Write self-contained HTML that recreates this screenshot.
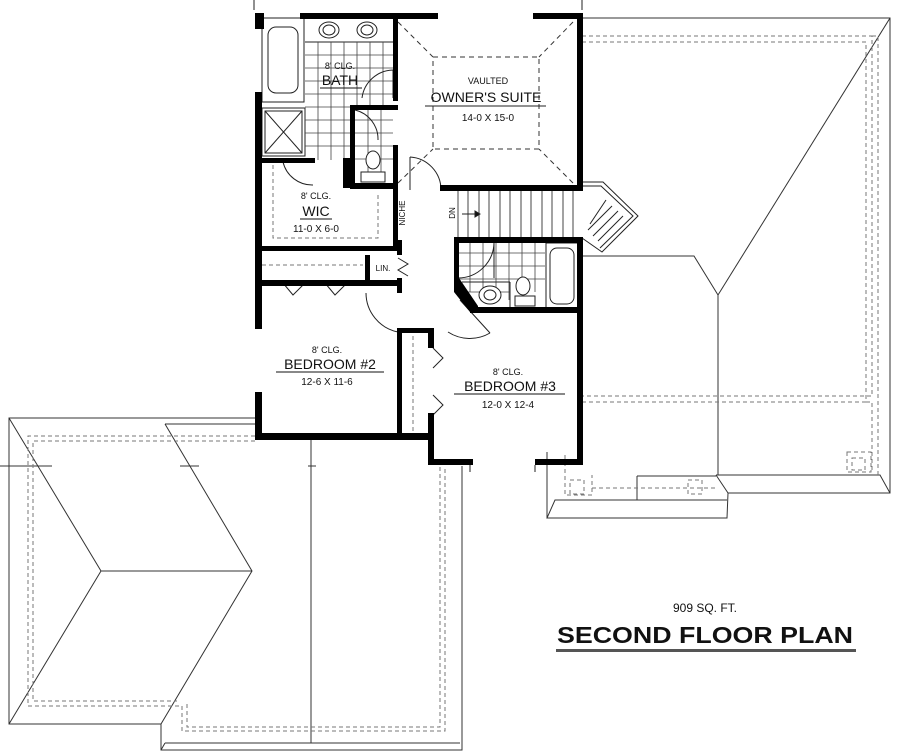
<!DOCTYPE html>
<html><head><meta charset="utf-8"><style>
html,body{margin:0;padding:0;background:#fff;}
svg{display:block;}
text{font-family:"Liberation Sans",sans-serif;fill:#111;}
</style></head><body>
<svg width="900" height="756" viewBox="0 0 900 756" xmlns="http://www.w3.org/2000/svg">
<rect width="900" height="756" fill="#fff"/>

<!-- RIGHT ROOF -->
<g fill="none" stroke="#333" stroke-width="1">
  <polyline points="582,18 890,18 890,493 728,493"/>
  <line x1="890" y1="18" x2="718" y2="295"/>
  <polyline points="582,256 694,256 718,295 718,475"/>
  <polyline points="716,475 880,475 890,493"/>
  <polyline points="716,475 728,493 727,518 547,518 555,500 727,500"/>
  <line x1="547" y1="452" x2="547" y2="518"/>
  <line x1="637" y1="476" x2="637" y2="500"/>
  <line x1="637" y1="476" x2="716" y2="476"/>
</g>
<g fill="none" stroke="#777" stroke-width="1" stroke-dasharray="4,3">
  <polyline points="582,36 872,36 872,396 582,396"/>
  <polyline points="582,42 866,42 866,402 582,402"/>
  <polyline points="872,36 878,36 878,475"/>
  <polyline points="866,402 872,402 872,472"/>
  <polyline points="565,455 565,495 592,495 592,475"/>
  <rect x="570" y="480" width="14" height="14"/>
  <rect x="688" y="480" width="14" height="14"/>
  <rect x="847" y="452" width="24" height="20"/>
  <rect x="852" y="458" width="13" height="12"/>
  <line x1="592" y1="488" x2="716" y2="488"/>
</g>

<!-- LEFT ROOF -->
<g fill="none" stroke="#333" stroke-width="1">
  <polyline points="255,418 9,418 9,724 161,724 161,750 462,750 462,466"/>
  <line x1="165" y1="424" x2="255" y2="424"/>
  <polyline points="9,418 101,571 9,724"/>
  <line x1="101" y1="571" x2="252" y2="571"/>
  <polyline points="165,424 252,571 161,724"/>
  <line x1="165" y1="743" x2="460" y2="743"/>
  <line x1="161" y1="750" x2="165" y2="743"/>
  <line x1="311" y1="440" x2="311" y2="743"/>
  <line x1="0" y1="466" x2="52" y2="466"/>
  <line x1="180" y1="466" x2="199" y2="466"/>
  <line x1="308" y1="466" x2="316" y2="466"/>
</g>
<g fill="none" stroke="#777" stroke-width="1" stroke-dasharray="4,3">
  <polyline points="255,436 28,436 28,706 182,706 182,731 445,731 445,466"/>
  <polyline points="255,441 33,441 33,701 177,701"/>
  <polyline points="187,704 187,727 440,727 440,466"/>
</g>

<!-- FIXTURES / THIN -->
<g fill="none" stroke="#222" stroke-width="1">
  <rect x="262" y="18" width="42" height="84"/>
  <rect x="268" y="27" width="30" height="66" rx="8"/>
  <rect x="262" y="108" width="43" height="48"/>
  <rect x="265" y="111" width="37" height="42"/>
  <line x1="265" y1="111" x2="302" y2="153"/><line x1="302" y1="111" x2="265" y2="153"/>
  <ellipse cx="329" cy="30" rx="10" ry="8"/><ellipse cx="329" cy="30" rx="6" ry="5"/>
  <ellipse cx="367" cy="30" rx="10" ry="8"/><ellipse cx="367" cy="30" rx="6" ry="5"/>
  <line x1="305" y1="42" x2="393" y2="42"/>
  <g stroke="#444" stroke-width="0.8">
   <line x1="305" y1="55" x2="393" y2="55"/><line x1="305" y1="68" x2="393" y2="68"/>
   <line x1="305" y1="81" x2="393" y2="81"/><line x1="305" y1="94" x2="393" y2="94"/>
   <line x1="305" y1="107" x2="350" y2="107"/><line x1="305" y1="120" x2="350" y2="120"/>
   <line x1="305" y1="133" x2="350" y2="133"/><line x1="305" y1="146" x2="350" y2="146"/>
   <line x1="318" y1="42" x2="318" y2="160"/><line x1="331" y1="42" x2="331" y2="160"/>
   <line x1="344" y1="42" x2="344" y2="160"/><line x1="357" y1="42" x2="357" y2="105"/>
   <line x1="370" y1="42" x2="370" y2="105"/><line x1="383" y1="42" x2="383" y2="105"/>
   <line x1="355" y1="120" x2="393" y2="120"/><line x1="355" y1="133" x2="393" y2="133"/>
   <line x1="355" y1="146" x2="393" y2="146"/><line x1="355" y1="159" x2="393" y2="159"/>
   <line x1="368" y1="110" x2="368" y2="172"/><line x1="381" y1="110" x2="381" y2="172"/>
  </g>
  <ellipse cx="373" cy="160" rx="7" ry="9" fill="#fff"/>
  <rect x="361" y="172" width="24" height="10" fill="#fff"/>
  <path d="M362,98 A32,32 0 0 1 393,70"/><line x1="393" y1="70" x2="393" y2="98"/>
  <path d="M355,110 A30,30 0 0 1 378,140" />
  <path d="M313,185 A30,30 0 0 1 283,162"/>
  <g stroke-dasharray="5,4" stroke="#333">
   <rect x="433" y="57" width="106" height="92"/>
   <line x1="398" y1="22" x2="433" y2="57"/><line x1="573" y1="22" x2="539" y2="57"/>
   <line x1="398" y1="183" x2="433" y2="149"/><line x1="573" y1="183" x2="539" y2="149"/>
  </g>
  <line x1="425" y1="106" x2="546" y2="106"/>
  <path d="M410,157 A33,33 0 0 1 441,190"/><line x1="410" y1="157" x2="410" y2="190"/>
  <g stroke-dasharray="4,3" stroke="#777">
   <polyline points="273,165 273,238 378,238 378,194"/>
   <line x1="262" y1="265" x2="363" y2="265"/>
  </g>
  <g stroke="#444">
   <line x1="458" y1="190" x2="458" y2="238"/>
   <line x1="468" y1="190" x2="468" y2="238"/><line x1="479" y1="190" x2="479" y2="238"/>
   <line x1="489" y1="190" x2="489" y2="238"/><line x1="500" y1="190" x2="500" y2="238"/>
   <line x1="510" y1="190" x2="510" y2="238"/><line x1="521" y1="190" x2="521" y2="238"/>
   <line x1="531" y1="190" x2="531" y2="238"/><line x1="542" y1="190" x2="542" y2="238"/>
   <line x1="552" y1="190" x2="552" y2="238"/><line x1="563" y1="190" x2="563" y2="238"/>
   <line x1="573" y1="190" x2="573" y2="238"/>
  </g>
  <line x1="462" y1="214" x2="477" y2="214"/>
  <polygon points="480,214 475,211 475,217" fill="#111"/>
  <polyline points="582,182 603,182 638,216 602,252 582,238"/>
  <polyline points="582,186 601,186 633,216 600,248"/>
  <line x1="588" y1="230" x2="612" y2="206"/><line x1="593" y1="236" x2="618" y2="211"/>
  <line x1="598" y1="241" x2="623" y2="216"/><line x1="590" y1="224" x2="606" y2="200"/>
  <g stroke="#444" stroke-width="0.8">
   <line x1="458" y1="253" x2="545" y2="253"/><line x1="458" y1="266" x2="545" y2="266"/>
   <line x1="458" y1="279" x2="545" y2="279"/><line x1="462" y1="292" x2="510" y2="292"/>
   <line x1="470" y1="243" x2="470" y2="292"/><line x1="483" y1="243" x2="483" y2="292"/>
   <line x1="496" y1="243" x2="496" y2="292"/><line x1="509" y1="243" x2="509" y2="300"/>
   <line x1="522" y1="243" x2="522" y2="292"/><line x1="535" y1="243" x2="535" y2="292"/>
  </g>
  <rect x="546" y="243" width="32" height="65"/>
  <rect x="550" y="248" width="24" height="56" rx="7"/>
  <ellipse cx="523" cy="286" rx="7" ry="9" fill="#fff"/>
  <rect x="515" y="296" width="20" height="10" fill="#fff"/>
  <ellipse cx="490" cy="295" rx="11" ry="9" fill="#fff"/><ellipse cx="490" cy="295" rx="6" ry="5"/>
  <line x1="462" y1="282" x2="510" y2="282"/><line x1="510" y1="282" x2="510" y2="308"/>
  <path d="M458,278 A36,36 0 0 0 494,243"/><line x1="494" y1="243" x2="494" y2="278"/>
  <line x1="460" y1="300" x2="490" y2="333"/><path d="M490,333 A40,40 0 0 1 448,332"/>
  <path d="M366,293 A40,40 0 0 0 398,332"/>
  <polyline points="283,283 293,295 303,285"/><polyline points="325,283 335,295 345,285"/>
  <polyline points="433,348 443,358 433,368"/><polyline points="433,395 443,405 433,415"/>
  <polyline points="398,258 408,264 398,270 408,276"/>
  <g stroke-dasharray="4,3" stroke="#777"><line x1="413" y1="336" x2="413" y2="432"/></g>
  <line x1="400" y1="336" x2="400" y2="435"/>
  <line x1="254" y1="0" x2="254" y2="10"/><line x1="582" y1="0" x2="582" y2="10"/>
  <line x1="470" y1="465" x2="470" y2="472"/><line x1="535" y1="465" x2="535" y2="472"/>
</g>

<!-- WALLS -->
<g fill="#000">
  <rect x="255" y="13" width="9" height="16"/>
  <rect x="300" y="13" width="138" height="6"/>
  <rect x="533" y="13" width="50" height="6"/>
  <rect x="577" y="13" width="6" height="176"/>
  <rect x="255" y="92" width="7" height="237"/>
  <rect x="255" y="392" width="7" height="48"/>
  <rect x="393" y="13" width="5" height="88"/>
  <rect x="350" y="105" width="48" height="5"/>
  <rect x="350" y="105" width="5" height="83"/>
  <rect x="350" y="183" width="48" height="6"/>
  <rect x="393" y="145" width="5" height="105"/>
  <rect x="262" y="158" width="53" height="5"/>
  <rect x="343" y="158" width="7" height="30"/>
  <rect x="440" y="185" width="143" height="6"/>
  <rect x="262" y="246" width="138" height="5"/>
  <rect x="397" y="240" width="5" height="15"/>
  <rect x="365" y="255" width="5" height="28"/>
  <rect x="262" y="280" width="140" height="6"/>
  <rect x="397" y="278" width="5" height="15"/>
  <rect x="454" y="237" width="129" height="6"/>
  <rect x="454" y="237" width="5" height="45"/>
  <polygon points="454,278 459,278 478,306 478,312 470,312 454,292"/>
  <rect x="470" y="307" width="113" height="6"/>
  <rect x="577" y="237" width="6" height="228"/>
  <rect x="535" y="459" width="48" height="6"/>
  <rect x="428" y="459" width="45" height="6"/>
  <rect x="428" y="331" width="6" height="17"/>
  <rect x="428" y="413" width="6" height="52"/>
  <rect x="397" y="328" width="37" height="5"/>
  <rect x="397" y="328" width="5" height="110"/>
  <rect x="255" y="433" width="179" height="7"/>
</g>

<!-- LABELS -->
<g text-anchor="middle">
  <text x="340" y="69" font-size="9">8' CLG.</text>
  <text x="340" y="85" font-size="14">BATH</text>
  <line x1="320" y1="88" x2="362" y2="88" stroke="#111"/>
  <text x="488" y="84" font-size="9">VAULTED</text>
  <text x="486" y="102" font-size="14">OWNER'S SUITE</text>
  <text x="488" y="121" font-size="10">14-0 X 15-0</text>
  <text x="316" y="199" font-size="9">8' CLG.</text>
  <text x="316" y="216" font-size="14">WIC</text>
  <line x1="300" y1="219" x2="332" y2="219" stroke="#111"/>
  <text x="316" y="232" font-size="10">11-0 X 6-0</text>
  <text x="327" y="353" font-size="9">8' CLG.</text>
  <text x="330" y="369" font-size="14">BEDROOM #2</text>
  <line x1="276" y1="372" x2="384" y2="372" stroke="#111"/>
  <text x="327" y="385" font-size="10">12-6 X 11-6</text>
  <text x="508" y="375" font-size="9">8' CLG.</text>
  <text x="510" y="391" font-size="14">BEDROOM #3</text>
  <line x1="454" y1="394" x2="565" y2="394" stroke="#111"/>
  <text x="508" y="408" font-size="10">12-0 X 12-4</text>
  <text x="383" y="271" font-size="8">LIN.</text>
  <text font-size="8" transform="translate(405,213) rotate(-90)">NICHE</text>
  <text font-size="8" transform="translate(455,213) rotate(-90)">DN</text>
  <text x="705" y="612" font-size="12">909 SQ. FT.</text>
  <text x="705" y="643" font-size="23" font-weight="bold" textLength="296" lengthAdjust="spacingAndGlyphs">SECOND FLOOR PLAN</text>
</g>
<rect x="556" y="649" width="300" height="3" fill="#555"/>
</svg>
</body></html>
